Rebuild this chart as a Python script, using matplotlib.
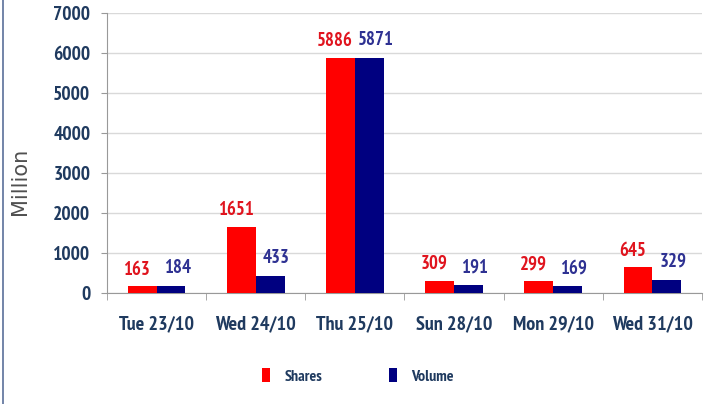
import matplotlib
matplotlib.use("Agg")
import matplotlib.pyplot as plt
import numpy as np
from matplotlib.patches import Patch
from matplotlib.lines import Line2D

categories = ["Tue 23/10", "Wed 24/10", "Thu 25/10", "Sun 28/10", "Mon 29/10", "Wed 31/10"]
shares = [163, 1651, 5886, 309, 299, 645]
volume = [184, 433, 5871, 191, 169, 329]
yticks = [0, 1000, 2000, 3000, 4000, 5000, 6000, 7000]

FONT = "PT Sans Narrow"
plt.rcParams['font.family'] = [FONT, 'DejaVu Sans']

RED = "#FF0000"
NAVY = "#000080"
TICKC = "#1F3A5F"
REDLBL = "#E0141E"
BLULBL = "#2E3192"

fig = plt.figure(figsize=(7.12, 4.04), dpi=100)
ax = fig.add_axes([107/712, 1-293/404, (702-107)/712, (293-13)/404])

x = np.arange(len(categories))
w = 0.29
b1 = ax.bar(x - w/2, shares, w, color=RED, zorder=3)
b2 = ax.bar(x + w/2, volume, w, color=NAVY, zorder=3)

for rect, v in zip(b1, shares):
    ax.annotate(str(v), (rect.get_x() + rect.get_width()/2, rect.get_height()),
                xytext=(-4, 12), textcoords="offset points", ha="center", va="center",
                color=REDLBL, fontsize=13.5, fontweight="bold")
for rect, v in zip(b2, volume):
    ax.annotate(str(v), (rect.get_x() + rect.get_width()/2, rect.get_height()),
                xytext=(4.5, 13), textcoords="offset points", ha="center", va="center",
                color=BLULBL, fontsize=13.5, fontweight="bold")

ax.set_xlim(-0.5, len(categories) - 0.5)
ax.set_ylim(0, 7000)
ax.set_yticks(yticks)
ax.set_yticklabels([str(t) for t in yticks], color=TICKC, fontsize=14, fontweight="bold")
ax.set_xticks(x)
ax.set_xticklabels(categories, color=TICKC, fontsize=14.5, fontweight="bold")
ax.set_xticks(np.arange(-0.5, len(categories)), minor=True)
ax.tick_params(axis="x", which="major", length=0, pad=16)
ax.tick_params(axis="x", which="minor", length=5, color="#999999", direction="out")
ax.tick_params(axis="y", length=4, color="#999999", direction="out", pad=8)

ax.yaxis.grid(True, color="#D9D9D9", linewidth=1, zorder=0)
for s in ["top", "right"]:
    ax.spines[s].set_visible(False)
ax.spines["left"].set_color("#999999")
ax.spines["bottom"].set_color("#999999")

fig.text(20/712, 1-181/404, "Million", rotation=90, ha="center", va="center",
         fontsize=15, color="#505050", family="DejaVu Sans")

handles = [Patch(facecolor=RED, label="Shares"), Patch(facecolor=NAVY, label="Volume")]
leg = fig.legend(handles=handles, loc="center", bbox_to_anchor=(358/712, 1-376/404),
                 ncol=2, frameon=False, handlelength=0.5, handleheight=0.9,
                 handletextpad=0.9, columnspacing=4.2,
                 prop={'family': FONT, 'weight': 'bold', 'size': 11.5})
for t in leg.get_texts():
    t.set_color(TICKC)

fig.add_artist(Line2D([3/712, 3/712], [0, 1], transform=fig.transFigure, color="#5A6F9A", linewidth=1.2))

fig.savefig("out.png", dpi=100)
